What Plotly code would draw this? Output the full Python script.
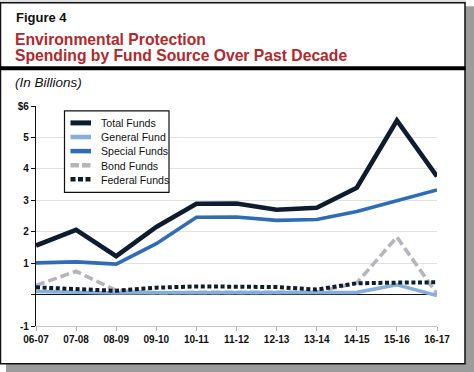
import plotly.graph_objects as go

years = ["06-07", "07-08", "08-09", "09-10", "10-11", "11-12", "12-13", "13-14", "14-15", "15-16", "16-17"]
total_funds = [1.56, 2.06, 1.22, 2.15, 2.89, 2.90, 2.70, 2.76, 3.40, 5.54, 3.76]
general_fund = [0.10, 0.08, 0.05, 0.06, 0.06, 0.05, 0.05, 0.05, 0.07, 0.31, -0.03]
special_funds = [1.01, 1.04, 0.97, 1.62, 2.46, 2.47, 2.36, 2.39, 2.64, 2.99, 3.33]
bond_funds = [0.29, 0.74, 0.13, 0.06, 0.07, 0.06, 0.07, 0.08, 0.37, 1.83, 0.02]
federal_funds = [0.23, 0.17, 0.12, 0.22, 0.26, 0.25, 0.24, 0.16, 0.36, 0.38, 0.39]
y_tick_vals = [-1, 0, 1, 2, 3, 4, 5, 6]
y_tick_text = ["-1", "", "1", "2", "3", "4", "5", "$6"]

W, H = 474, 372
L, R, T, B = 36, 437, 105.7, 325.7


def px(x):
    return (x - L) / (R - L)


def py(y):
    return (B - y) / (B - T)


NAVY = "#0e1c30"
LIGHT = "#86aedd"
MID = "#2f6cb8"
GRAY = "#b5b5bd"
RED = "#b3282d"

series = [
    ("Bond Funds", bond_funds, dict(color=GRAY, width=3.6, dash="9px,4px")),
    ("General Fund", general_fund, dict(color=LIGHT, width=3.6)),
    ("Federal Funds", federal_funds, dict(color=NAVY, width=4, dash="4px,2.6px")),
    ("Special Funds", special_funds, dict(color=MID, width=3.6)),
    ("Total Funds", total_funds, dict(color=NAVY, width=4.6)),
]

fig = go.Figure()
for name, vals, line in series:
    fig.add_trace(go.Scatter(x=years, y=vals, name=name, mode="lines", line=line,
                             showlegend=False, hoverinfo="x+y+name"))

shapes = []
# drop shadow
shapes.append(dict(type="rect", xref="paper", yref="paper", x0=px(6), x1=px(474), y0=py(6), y1=py(372),
                   fillcolor="#9c9c9c", line=dict(width=0), layer="below"))
# top light band
shapes.append(dict(type="rect", xref="paper", yref="paper", x0=px(0), x1=px(466), y0=py(0), y1=py(3),
                   fillcolor="#d8d8d8", line=dict(width=0), layer="below"))
# frame
shapes.append(dict(type="rect", xref="paper", yref="paper", x0=px(0.5), x1=px(465), y0=py(2.5), y1=py(363.5),
                   fillcolor="white", line=dict(color="#111111", width=1.5), layer="below"))
# thick separator
shapes.append(dict(type="line", xref="paper", yref="paper", x0=px(0), x1=px(465.5), y0=py(68), y1=py(68),
                   line=dict(color="black", width=4), layer="below"))

# legend box (manual)
shapes.append(dict(type="rect", xref="paper", yref="paper", x0=px(64.5), x1=px(169), y0=py(110.5), y1=py(192),
                   fillcolor="white", line=dict(color="#111111", width=1.2), layer="above"))
legend_items = [
    ("Total Funds", dict(color=NAVY, width=5)),
    ("General Fund", dict(color=LIGHT, width=4.5)),
    ("Special Funds", dict(color=MID, width=4.5)),
    ("Bond Funds", dict(color=GRAY, width=4.5, dash="8.5px,3px")),
    ("Federal Funds", dict(color=NAVY, width=4.5, dash="5px,2.5px")),
]
annotations = []
for i, (name, line) in enumerate(legend_items):
    yc = 122.6 + 14.1 * i
    shapes.append(dict(type="line", xref="paper", yref="paper", x0=px(70.5), x1=px(91), y0=py(yc), y1=py(yc),
                       line=line, layer="above"))
    annotations.append(dict(text=name, xref="paper", yref="paper", x=px(98.5), y=py(yc + 0.3),
                            xanchor="left", yanchor="middle", showarrow=False,
                            font=dict(size=10.6, color="#111111")))

annotations += [
    dict(text="<b>Figure 4</b>", xref="paper", yref="paper", x=px(13.5), y=py(17), xanchor="left",
         yanchor="middle", showarrow=False, font=dict(size=13, color="#111111")),
    dict(text="<b>Environmental Protection</b>", xref="paper", yref="paper", x=px(12.5), y=py(39),
         xanchor="left", yanchor="middle", showarrow=False, font=dict(size=15.7, color=RED)),
    dict(text="<b>Spending by Fund Source Over Past Decade</b>", xref="paper", yref="paper", x=px(12.5),
         y=py(55.5), xanchor="left", yanchor="middle", showarrow=False, font=dict(size=15.7, color=RED)),
    dict(text="<i>(In Billions)</i>", xref="paper", yref="paper", x=px(12.5), y=py(82), xanchor="left",
         yanchor="middle", showarrow=False, font=dict(size=13.5, color="#111111")),
]

fig.update_layout(
    width=W, height=H,
    margin=dict(l=L, r=W - R, t=T, b=H - B, pad=0),
    paper_bgcolor="white", plot_bgcolor="rgba(0,0,0,0)",
    font=dict(family="Liberation Sans, Arial, sans-serif", color="#111111"),
    showlegend=False,
    shapes=shapes, annotations=annotations,
    xaxis=dict(type="category", range=[0, 10], showgrid=False, zeroline=False,
               showline=True, linecolor="#c8c8c8", linewidth=1,
               ticks="outside", ticklen=4, tickcolor="#b0b0b0", tickwidth=1,
               tickfont=dict(size=10, weight="bold", color="#111111"), fixedrange=True),
    yaxis=dict(range=[-1, 6], tickvals=y_tick_vals, ticktext=y_tick_text,
               showgrid=True, gridcolor="#e2e2e2", gridwidth=1,
               zeroline=True, zerolinecolor="#111111", zerolinewidth=1.2,
               showline=True, linecolor="#111111", linewidth=1.2,
               ticks="outside", ticklen=4, tickcolor="#111111", tickwidth=1,
               tickfont=dict(size=10, weight="bold", color="#111111"), fixedrange=True),
)

fig.write_html("out.html", config={"displayModeBar": False},
               post_script="document.body.style.margin='0';document.body.style.overflow='hidden';")
